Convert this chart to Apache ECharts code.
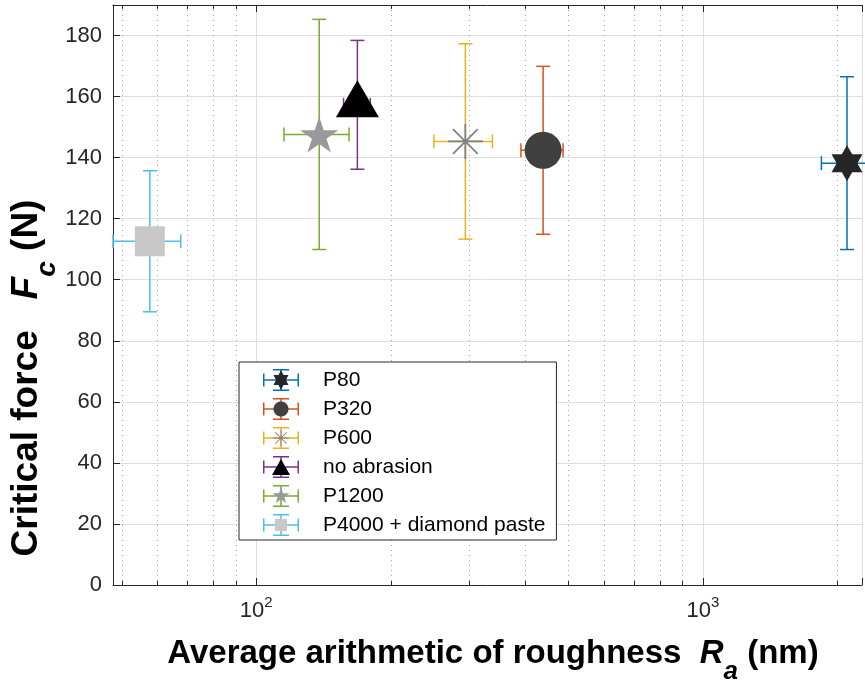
<!DOCTYPE html>
<html><head><meta charset="utf-8">
<script src="https://cdn.jsdelivr.net/npm/echarts@6/dist/echarts.min.js"></script>
<style>html,body{margin:0;padding:0;background:#fff}#c{width:865px;height:683px}</style>
</head><body><div id="c"></div>
<script>
// ---- data ----
const groups = ['P80', 'P320', 'P600', 'no abrasion', 'P1200', 'P4000 + diamond paste'];
const roughness = [2103, 439, 294, 168.5, 138.4, 57.8];      // Ra (nm)
const roughnessErr = [260, 47.5, 44, 11.6, 23, 10];          // ± Ra
const force = [138.2, 142.4, 145.3, 157.3, 147.6, 112.6];    // Fc (N)
const forceErr = [28.3, 27.5, 32, 21.1, 37.7, 23.1];         // ± Fc
const yTicks = [0, 20, 40, 60, 80, 100, 120, 140, 160, 180];
const minorX = [50, 60, 70, 80, 90, 200, 300, 400, 500, 600, 700, 800, 900, 2000];
const xRange = [47.8, 2272];
const yRange = [0, 190];

// ---- styles ----
const FONT = '"Liberation Sans", Arial, Helvetica, sans-serif';
const AX = '#262626';
const barColors = ['#0072BD', '#D95319', '#EDB120', '#7E2F8E', '#77AC30', '#4DBEEE'];
const markerColors = ['#262626', '#404040', '#808080', '#000000', '#999999', '#C8C8C8'];

// ---- shape helpers ----
function starPoly(n, inner, startDeg) {
  const pts = [];
  for (let i = 0; i < 2 * n; i++) {
    const a = (startDeg + i * 180 / n) * Math.PI / 180;
    const r = i % 2 ? inner : 1;
    pts.push([r * Math.cos(a), r * Math.sin(a)]);
  }
  return [pts];
}
function barPoly(deg, L, t) {
  const a = deg * Math.PI / 180, c = Math.cos(a), s = Math.sin(a);
  return [[c * L - s * t, s * L + c * t], [c * L + s * t, s * L - c * t], [-c * L + s * t, -s * L - c * t], [-c * L - s * t, -s * L + c * t]];
}
function circlePoly() {
  const pts = [];
  for (let i = 0; i < 48; i++) { const a = i / 48 * 2 * Math.PI; pts.push([Math.cos(a), Math.sin(a)]); }
  return [pts];
}
const shapes = [
  starPoly(6, 1 / Math.sqrt(3), -90),                                   // hexagram
  circlePoly(),                                                          // circle
  [barPoly(0, 1, 0.05), barPoly(90, 1, 0.05), barPoly(45, 1, 0.05), barPoly(135, 1, 0.05)], // asterisk
  [[[0, -1], [1, 1], [-1, 1]]],                                          // triangle
  starPoly(5, 0.382, -90),                                               // pentagram
  [[[-1, -1], [1, -1], [1, 1], [-1, 1]]]                                 // square
];
function toPath(polys, sx, sy) {
  return polys.map(p => 'M' + p.map(q => (q[0] * sx).toFixed(3) + ',' + (q[1] * sy).toFixed(3)).join('L') + 'Z').join(' ');
}
const markerSizes = [[31, 36], [37, 37], [35, 35], [43, 37], [38, 36], [30, 30]];
const markerOffsets = [[0, 0], [0, 0], [0, 0], [0, -6], [0, 0], [0, 0]];
const legendMarkerSizes = [[17.3, 20], [15, 15], [16, 16], [18, 16], [18, 17], [12, 12]];
// invisible anchors so every legend icon has the same 36x22 box
const anchors = 'M-18,-11L-17.99,-11L-18,-10.99Z M18,11L17.99,11L18,10.99Z ';
const crossIcon = 'path://' +
  'M-18,-0.75H18V0.75H-18Z M-18,-6.5H-16.5V6.5H-18Z M16.5,-6.5H18V6.5H16.5Z ' +
  'M-0.75,-11H0.75V11H-0.75Z M-8,-11H8V-9.5H-8Z M-8,9.5H8V11H-8Z';

// ---- render helpers ----
function renderErrorBar(params, api) {
  const x = api.value(0), y = api.value(1), ex = api.value(2), ey = api.value(3);
  const c = api.coord([x, y]);
  const l = api.coord([x - ex, y]), r = api.coord([x + ex, y]);
  const t = api.coord([x, y + ey]), b = api.coord([x, y - ey]);
  const cap = 7;
  const st = { stroke: api.visual('color'), lineWidth: 1.5, fill: null };
  const ln = (x1, y1, x2, y2) => ({ type: 'line', shape: { x1, y1, x2, y2 }, style: st });
  return {
    type: 'group', children: [
      ln(l[0], c[1], r[0], c[1]),
      ln(l[0], c[1] - cap, l[0], c[1] + cap),
      ln(r[0], c[1] - cap, r[0], c[1] + cap),
      ln(c[0], t[1], c[0], b[1]),
      ln(c[0] - cap, t[1], c[0] + cap, t[1]),
      ln(c[0] - cap, b[1], c[0] + cap, b[1])
    ]
  };
}
function renderMinor(params, api) {
  const cs = params.coordSys;
  const p = api.coord([api.value(0), yRange[0]]);
  const x = Math.round(p[0]) + 0.5;
  const top = cs.y, bot = cs.y + cs.height;
  return {
    type: 'group', children: [
      { type: 'line', shape: { x1: x, y1: top, x2: x, y2: bot }, style: { stroke: '#a8a8a8', lineWidth: 1, lineDash: [1, 4] } },
      { type: 'line', shape: { x1: x, y1: bot, x2: x, y2: bot - 4 }, style: { stroke: AX, lineWidth: 1 } },
      { type: 'line', shape: { x1: x, y1: top, x2: x, y2: top + 4 }, style: { stroke: AX, lineWidth: 1 } }
    ]
  };
}

const series = [{
  type: 'custom', name: '_minor', silent: true, z: 1,
  data: minorX.map(v => [v, yRange[0]]), encode: { x: 0, y: 1 },
  renderItem: renderMinor
}];
groups.forEach((g, i) => {
  series.push({
    type: 'custom', name: g, silent: true, z: 3,
    itemStyle: { color: barColors[i] },
    data: [[roughness[i], force[i], roughnessErr[i], forceErr[i]]],
    encode: { x: 0, y: 1 },
    renderItem: renderErrorBar
  });
});
groups.forEach((g, i) => {
  series.push({
    type: 'scatter', name: g, silent: true, z: 4,
    symbol: 'path://' + toPath(shapes[i], 1, 1),
    symbolSize: markerSizes[i], symbolOffset: markerOffsets[i],
    itemStyle: { color: markerColors[i], opacity: 1, borderWidth: 0 },
    data: [[roughness[i], force[i]]]
  });
});

const legendCommon = {
  orient: 'vertical', left: 239, top: 362, padding: [7, 11, 4, 24],
  itemGap: 7, itemWidth: 36, itemHeight: 22, selectedMode: false, symbolKeepAspect: true,
  formatter: name => '{t|' + name + '}',
  textStyle: {
    fontSize: 21, fontFamily: FONT, lineHeight: 22, color: '#000',
    rich: { t: { fontSize: 21, fontFamily: FONT, lineHeight: 22, padding: [0, 0, 0, 19] } }
  },
  itemStyle: { borderWidth: 0 }
};

const chart = echarts.init(document.getElementById('c'), null, { renderer: 'canvas' });
chart.setOption({
  animation: false,
  backgroundColor: '#fff',
  grid: { left: 113, top: 5, right: 0, bottom: 98, containLabel: false },
  xAxis: [{
    type: 'log', logBase: 10, min: xRange[0], max: xRange[1], position: 'bottom',
    axisLine: { show: true, lineStyle: { color: AX, width: 1 } },
    axisTick: { show: true, inside: true, length: 7, lineStyle: { color: AX } },
    splitLine: { show: true, lineStyle: { color: '#dedede', width: 1 } },
    minorTick: { show: false }, minorSplitLine: { show: false },
    axisLabel: {
      margin: 10, fontSize: 22, fontFamily: FONT, color: AX,
      formatter: v => {
        const e = Math.log10(v);
        return Math.abs(e - Math.round(e)) < 1e-6 ? '10{sup|' + Math.round(e) + '}' : '';
      },
      rich: { sup: { fontSize: 15, fontFamily: FONT, color: AX, padding: [0, 0, 16, 0] } }
    }
  }, {
    type: 'log', logBase: 10, min: xRange[0], max: xRange[1], position: 'top',
    axisLine: { show: true, lineStyle: { color: AX, width: 1 } },
    axisTick: { show: true, inside: true, length: 7, lineStyle: { color: AX } },
    axisLabel: { show: false }, splitLine: { show: false }
  }],
  yAxis: {
    type: 'value', min: yRange[0], max: yRange[1], interval: 20,
    axisLine: { show: true, lineStyle: { color: AX, width: 1 } },
    axisTick: { show: true, inside: true, length: 7, lineStyle: { color: AX } },
    splitLine: { show: true, lineStyle: { color: '#dedede', width: 1 } },
    axisLabel: {
      margin: 11, fontSize: 22, fontFamily: FONT, color: AX,
      formatter: v => yTicks.indexOf(v) >= 0 ? String(v) : ''
    }
  },
  legend: [
    Object.assign({}, legendCommon, {
      z: 10, borderColor: AX, borderWidth: 1, backgroundColor: '#fff',
      data: groups.map((g, i) => ({ name: g, icon: crossIcon, itemStyle: { color: barColors[i], borderWidth: 0 } }))
    }),
    Object.assign({}, legendCommon, {
      z: 11,
      textStyle: Object.assign({}, legendCommon.textStyle, {
        color: 'rgba(0,0,0,0)',
        rich: { t: { fontSize: 21, fontFamily: FONT, lineHeight: 22, padding: [0, 0, 0, 19], color: 'rgba(0,0,0,0)' } }
      }),
      data: groups.map((g, i) => ({
        name: g,
        icon: 'path://' + anchors + toPath(shapes[i], legendMarkerSizes[i][0] / 2, legendMarkerSizes[i][1] / 2),
        itemStyle: { color: markerColors[i], borderWidth: 0 }
      }))
    })
  ],
  graphic: [{
    type: 'text', x: 493, y: 654, silent: true,
    style: {
      text: 'Average arithmetic of roughness  {i|R}{s|a} (nm)',
      fontSize: 33, fontWeight: 'bold', fontFamily: FONT, fill: '#000',
      align: 'center', verticalAlign: 'middle',
      rich: {
        i: { fontSize: 33, fontWeight: 'bold', fontStyle: 'italic', fontFamily: FONT, fill: '#000' },
        s: { fontSize: 26, fontWeight: 'bold', fontStyle: 'italic', fontFamily: FONT, fill: '#000', padding: [36, 0, 0, 0] }
      }
    }
  }, {
    type: 'text', x: 27, y: 378, rotation: Math.PI / 2, silent: true,
    style: {
      text: 'Critical force   {i|F}{s|c} (N)',
      fontSize: 37, fontWeight: 'bold', fontFamily: FONT, fill: '#000',
      align: 'center', verticalAlign: 'middle',
      rich: {
        i: { fontSize: 37, fontWeight: 'bold', fontStyle: 'italic', fontFamily: FONT, fill: '#000' },
        s: { fontSize: 28, fontWeight: 'bold', fontStyle: 'italic', fontFamily: FONT, fill: '#000', padding: [40, 0, 0, 0] }
      }
    }
  }],
  series: series
});
</script>
</body></html>
